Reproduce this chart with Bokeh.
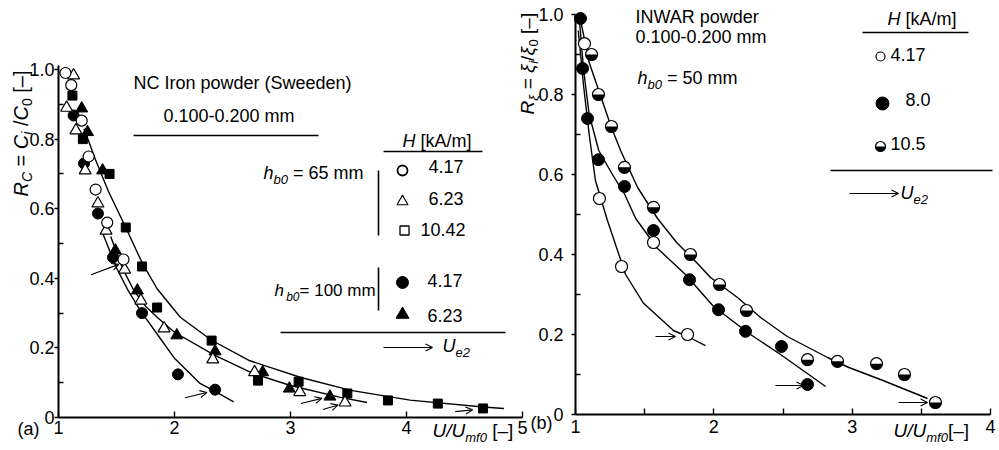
import math
from bokeh.plotting import figure
from bokeh.models import Label, Arrow, OpenHead, FixedTicker, Range1d, LinearAxis
from bokeh.embed import file_html
from bokeh.resources import INLINE

# ================= DATA : panel (a) NC Iron powder =================
# h_b0 = 65 mm, H = 4.17 kA/m (open circles)
a65_c_x = [1.06, 1.11, 1.20, 1.26, 1.32, 1.42, 1.56]
a65_c_y = [0.99, 0.955, 0.853, 0.75, 0.655, 0.56, 0.454]
# h_b0 = 65 mm, H = 6.23 kA/m (open triangles)
a65_t_x = [1.13, 1.07, 1.15, 1.23, 1.34, 1.41, 1.57, 1.71, 1.91, 2.33, 2.69, 3.08, 3.47]
a65_t_y = [0.983, 0.89, 0.825, 0.71, 0.615, 0.537, 0.425, 0.336, 0.256, 0.167, 0.13, 0.073, 0.043]
# h_b0 = 65 mm, H = 10.42 kA/m (squares)
a65_s_x = [1.12, 1.21, 1.44, 1.58, 1.72, 1.85, 2.32, 2.72, 3.07, 3.49, 3.84, 4.27, 4.66]
a65_s_y = [0.925, 0.80, 0.70, 0.546, 0.434, 0.316, 0.221, 0.106, 0.103, 0.069, 0.049, 0.04, 0.026]
# h_b0 = 100 mm, H = 4.17 kA/m (filled circles)
a100_c_x = [1.13, 1.22, 1.34, 1.47, 1.72, 2.03, 2.35]
a100_c_y = [0.868, 0.73, 0.586, 0.46, 0.30, 0.124, 0.08]
# h_b0 = 100 mm, H = 6.23 kA/m (filled triangles)
a100_t_x = [1.20, 1.25, 1.38, 1.49, 1.68, 2.02, 2.35, 2.76, 2.99, 3.34]
a100_t_y = [0.888, 0.82, 0.71, 0.48, 0.365, 0.236, 0.19, 0.13, 0.083, 0.06]
# curves
a_curve1_x = [1.22, 1.32, 1.43, 1.58, 1.72, 1.85, 2.05, 2.32, 2.65, 3.09, 3.52, 4.03, 4.66, 4.84]
a_curve1_y = [0.83, 0.74, 0.65, 0.546, 0.445, 0.37, 0.288, 0.222, 0.163, 0.115, 0.078, 0.05, 0.03, 0.026]
a_curve2_x = [1.45, 1.55, 1.65, 1.75, 1.86, 2.0, 2.34, 2.68, 3.0, 3.43, 3.66]
a_curve2_y = [0.52, 0.43, 0.365, 0.32, 0.285, 0.245, 0.18, 0.126, 0.092, 0.058, 0.043]
a_curve3_x = [1.38, 1.50, 1.60, 1.70, 1.85, 2.0, 2.22, 2.35, 2.51]
a_curve3_y = [0.53, 0.43, 0.365, 0.31, 0.24, 0.17, 0.098, 0.075, 0.045]
# U_e2 arrows (start -> end)
a_arr_x0 = [1.28, 2.09, 3.09, 3.28, 4.42]
a_arr_y0 = [0.41, 0.057, 0.040, 0.023, 0.017]
a_arr_x1 = [1.52, 2.28, 3.27, 3.41, 4.57]
a_arr_y1 = [0.44, 0.072, 0.055, 0.036, 0.022]
a_xticks = [1, 2, 3, 4, 5]
a_yticks = [0, 0.2, 0.4, 0.6, 0.8, 1.0]
a_yticklabels = ["0", "0.2", "0.4", "0.6", "0.8", "1.0"]
a_yminor = [0.1, 0.3, 0.5, 0.7, 0.9]

# ================= DATA : panel (b) INWAR powder =================
b_417_x = [1.065, 1.173, 1.333, 1.564, 1.810]
b_417_y = [0.927, 0.54, 0.37, 0.43, 0.20]
b_80_x = [1.036, 1.051, 1.087, 1.166, 1.354, 1.564, 1.824, 2.034, 2.229, 2.489, 2.677]
b_80_y = [0.99, 0.865, 0.74, 0.637, 0.57, 0.46, 0.337, 0.262, 0.208, 0.17, 0.075]
b_105_x = [1.116, 1.166, 1.260, 1.354, 1.564, 1.831, 2.041, 2.236, 2.677, 2.894, 3.176, 3.378, 3.602]
b_105_y = [0.90, 0.80, 0.72, 0.618, 0.518, 0.40, 0.325, 0.26, 0.137, 0.133, 0.127, 0.10, 0.03]
b_curveA_x = [1.02, 1.059, 1.099, 1.144, 1.231, 1.362, 1.492, 1.708, 1.81, 1.939]
b_curveA_y = [0.96, 0.82, 0.70, 0.585, 0.485, 0.35, 0.278, 0.21, 0.195, 0.172]
b_curveB_x = [1.03, 1.059, 1.099, 1.168, 1.267, 1.356, 1.435, 1.593, 1.795, 1.998, 2.265, 2.482, 2.808]
b_curveB_y = [0.98, 0.86, 0.75, 0.66, 0.60, 0.55, 0.49, 0.415, 0.35, 0.27, 0.20, 0.15, 0.07]
b_curveC_x = [1.04, 1.099, 1.178, 1.257, 1.326, 1.449, 1.593, 1.731, 1.882, 1.976, 2.171, 2.338, 2.531, 2.822, 2.976, 3.223, 3.545]
b_curveC_y = [0.98, 0.88, 0.80, 0.72, 0.66, 0.5675, 0.49, 0.43, 0.3775, 0.3425, 0.2925, 0.2425, 0.195, 0.1425, 0.1175, 0.085, 0.04]
b_arr_x0 = [1.578, 2.445, 3.335]
b_arr_y0 = [0.195, 0.0725, 0.03]
b_arr_x1 = [1.723, 2.648, 3.545]
b_arr_y1 = [0.195, 0.0725, 0.03]
b_xticks = [1, 2, 3, 4]
b_xminor = [1.5, 2.5, 3.5]
b_yticks = [0, 0.2, 0.4, 0.6, 0.8, 1.0]
b_yticklabels = ["0", "0.2", "0.4", "0.6", "0.8", "1.0"]
b_yminor = [0.1, 0.3, 0.5, 0.7, 0.9]

FONT = "Liberation Sans"
BLACK = "black"
NB = "\u00a0"

# ---------- layout geometry (page pixels) ----------
W, H = 999, 450
A_X1_PX, A_PPU_X = 58.0, 116.0      # panel a: x=1 at px 58
A_Y0_PY, A_PPU_Y = 417.0, 348.0     # panel a: y=0 at py 417
B_X1_PX, B_PPU_X = 575.0, 415.0 / 3  # panel b: x=1 at px 575, x=4 at 990
B_Y0_PY, B_PPU_Y = 414.0, 400.0     # panel b: y=0 at py 414

def fx(px): return 1 + (px - A_X1_PX) / A_PPU_X
def fy(py): return (A_Y0_PY - py) / A_PPU_Y
def bpx(x): return B_X1_PX + (x - 1) * B_PPU_X
def bpy(y): return B_Y0_PY - y * B_PPU_Y

CW = {' ': 278, NB: 278, '(': 333, ')': 333, '-': 333, '.': 278, '/': 278, '=': 584, '[': 278, ']': 278,
      '–': 556, 'A': 667, 'C': 722, 'H': 722, 'I': 278, 'N': 722, 'R': 722, 'S': 667, 'U': 722,
      'W': 944, 'a': 556, 'b': 556, 'd': 556, 'e': 556, 'f': 278, 'h': 556, 'i': 222, 'k': 500,
      'm': 833, 'n': 556, 'o': 556, 'p': 556, 'r': 333, 'w': 722, 'ξ': 480}
MID = 0.35  # em-box middle above the baseline, as a fraction of the font size

def tw(s, size):
    return sum(CW.get(ch, 556) for ch in s) * size / 1000.0

def mk_label(x, y, text, size, style, angle=0.0):
    return Label(x=x, y=y, text=text.replace(" ", NB), text_font=FONT, text_font_size=f"{size}px",
                 text_font_style=style, text_color=BLACK, text_align="left",
                 text_baseline="middle", angle=angle)

def plain(p, text, px, py, size=18, style="normal"):
    p.add_layout(mk_label(fx(px), fy(py), text, size, style))

def rich(p, segs, px, py, vertical=False):
    """px/py: start point on the common baseline (page pixels)."""
    pos = py if vertical else px
    for text, size, style, shift in segs:
        off = shift - MID * size
        if vertical:
            p.add_layout(mk_label(fx(px + off), fy(pos), text, size, style, math.pi / 2))
            pos -= tw(text, size)
        else:
            p.add_layout(mk_label(fx(pos), fy(py + off), text, size, style))
            pos += tw(text, size)

def seg(p, x0, y0, x1, y1, w=1.3):
    p.segment(x0=[fx(x0)], y0=[fy(y0)], x1=[fx(x1)], y1=[fy(y1)], line_color=BLACK, line_width=w)

def arrow(p, x0, y0, x1, y1):
    p.add_layout(Arrow(x_start=x0, y_start=y0, x_end=x1, y_end=y1, line_width=1.1, line_color=BLACK,
                       end=OpenHead(size=7, line_width=1.1, line_color=BLACK)))

def style_axis(ax, tick_in, tick_out, minor_in, standoff):
    ax.axis_line_width = 2
    ax.axis_line_color = BLACK
    ax.major_tick_line_color = BLACK
    ax.minor_tick_line_color = BLACK
    ax.major_tick_line_width = 1.4
    ax.minor_tick_line_width = 1.4
    ax.major_tick_in = tick_in
    ax.major_tick_out = tick_out
    ax.minor_tick_in = minor_in
    ax.minor_tick_out = 0
    ax.major_label_standoff = standoff
    ax.major_label_text_font = FONT
    ax.major_label_text_font_size = "18px"
    ax.major_label_text_color = BLACK

p = figure(width=W, height=H, output_backend="svg", toolbar_location=None,
           x_range=Range1d(fx(0), fx(W)), y_range=Range1d(fy(H), fy(0)),
           x_axis_location=None, y_axis_location=None, min_border=0)
p.extra_x_ranges = {"xb": Range1d(1 + (0 - B_X1_PX) / B_PPU_X, 1 + (W - B_X1_PX) / B_PPU_X)}
p.extra_y_ranges = {"yb": Range1d((B_Y0_PY - H) / B_PPU_Y, B_Y0_PY / B_PPU_Y)}
p.grid.visible = False
p.outline_line_color = None
p.background_fill_color = "white"
p.border_fill_color = "white"

# ----- axes panel (a)
ax_a = LinearAxis(ticker=FixedTicker(ticks=a_xticks), fixed_location=0, bounds=(1, 5))
style_axis(ax_a, 6, 0, 0, 3)
p.add_layout(ax_a, "below")
ay_a = LinearAxis(ticker=FixedTicker(ticks=a_yticks, minor_ticks=a_yminor), fixed_location=1,
                  bounds=(0, 1.012), major_label_overrides=dict(zip(a_yticks, a_yticklabels)))
style_axis(ay_a, 0, 4, 5, 0)
p.add_layout(ay_a, "left")
# ----- axes panel (b)
ax_b = LinearAxis(x_range_name="xb", y_range_name="yb", fixed_location=0, bounds=(1, 4),
                  ticker=FixedTicker(ticks=b_xticks, minor_ticks=b_xminor))
style_axis(ax_b, 6, 0, 6, 5)
p.add_layout(ax_b, "below")
ay_b = LinearAxis(x_range_name="xb", y_range_name="yb", fixed_location=1, bounds=(0, 1.0),
                  ticker=FixedTicker(ticks=b_yticks, minor_ticks=b_yminor),
                  major_label_overrides=dict(zip(b_yticks, b_yticklabels)))
style_axis(ay_b, 0, 4, 5, 8)
p.add_layout(ay_b, "left")

# ----- panel (a) data
for cx, cy in ((a_curve1_x, a_curve1_y), (a_curve2_x, a_curve2_y), (a_curve3_x, a_curve3_y)):
    p.line(cx, cy, line_color=BLACK, line_width=1.4)
p.scatter(a65_s_x, a65_s_y, marker="square", size=9, fill_color=BLACK, line_color=BLACK)
p.scatter(a100_t_x, a100_t_y, marker="triangle", size=12, fill_color=BLACK, line_color=BLACK)
p.scatter(a100_c_x, a100_c_y, marker="circle", size=11, fill_color=BLACK, line_color=BLACK)
p.scatter(a65_t_x, a65_t_y, marker="triangle", size=12, fill_color="white", line_color=BLACK, line_width=1.2)
p.scatter(a65_c_x, a65_c_y, marker="circle", size=11, fill_color="white", line_color=BLACK, line_width=1.2)
for i in range(len(a_arr_x0)):
    arrow(p, a_arr_x0[i], a_arr_y0[i], a_arr_x1[i], a_arr_y1[i])

# ----- panel (b) data
for cx, cy in ((b_curveA_x, b_curveA_y), (b_curveB_x, b_curveB_y), (b_curveC_x, b_curveC_y)):
    p.line(cx, cy, line_color=BLACK, line_width=1.4, x_range_name="xb", y_range_name="yb")
p.scatter(b_80_x, b_80_y, marker="circle", size=12, fill_color=BLACK, line_color=BLACK,
          x_range_name="xb", y_range_name="yb")
p.scatter(b_417_x, b_417_y, marker="circle", size=12, fill_color="white", line_color=BLACK, line_width=1.2,
          x_range_name="xb", y_range_name="yb")
p.scatter(b_105_x, b_105_y, marker="circle", size=12, fill_color="white", line_color=BLACK, line_width=1.2,
          x_range_name="xb", y_range_name="yb")
p.wedge(b_105_x, b_105_y, radius=6, radius_units="screen", start_angle=math.pi, end_angle=2 * math.pi,
        fill_color=BLACK, line_color=None, x_range_name="xb", y_range_name="yb")
for i in range(len(b_arr_x0)):
    arrow(p, fx(bpx(b_arr_x0[i])), fy(bpy(b_arr_y0[i])), fx(bpx(b_arr_x1[i])), fy(bpy(b_arr_y1[i])))

# ----- annotations (a)
plain(p, "NC Iron powder (Sweeden)", 133, 82)
plain(p, "0.100-0.200 mm", 163, 115)
seg(p, 133, 135, 318, 135)
rich(p, [("H", 18, "italic", 0), (" [kA/m]", 18, "normal", 0)], 402, 146.5)
seg(p, 383, 151, 482, 151)
rich(p, [("h", 18, "italic", 0), ("b0", 13, "italic", 5), (" = 65 mm", 18, "normal", 0)], 263, 178.5)
seg(p, 378, 170, 378, 235, 1.6)
p.scatter([fx(402)], [fy(170)], marker="circle", size=10, fill_color="white", line_color=BLACK, line_width=1.8)
p.scatter([fx(402)], [fy(201)], marker="triangle", size=11, fill_color="white", line_color=BLACK, line_width=1.1)
p.scatter([fx(404)], [fy(230)], marker="square", size=9, fill_color="white", line_color=BLACK, line_width=1.3)
plain(p, "4.17", 428, 166)
plain(p, "6.23", 428, 198)
plain(p, "10.42", 420, 229)
rich(p, [("h", 17, "italic", 0), (" ", 8, "normal", 0), ("b0", 12, "italic", 5), ("= 100 mm", 17, "normal", 0)],
     274, 296)
seg(p, 378, 267, 378, 310, 1.6)
p.scatter([fx(402)], [fy(282)], marker="circle", size=12, fill_color=BLACK, line_color=BLACK)
p.scatter([fx(402)], [fy(314)], marker="triangle", size=13, fill_color=BLACK, line_color=BLACK)
plain(p, "4.17", 427, 280)
plain(p, "6.23", 427, 315)
seg(p, 280, 332, 505, 332)
arrow(p, fx(383), fy(347), fx(432), fy(347))
rich(p, [("U", 18, "italic", 0), ("e2", 13, "italic", 5)], 442, 352)
plain(p, "(a)", 17, 428)
rich(p, [("U/U", 19, "italic", 0), ("mf0", 13, "italic", 5), (" [–]", 19, "normal", 0)], 432, 437)
rich(p, [("R", 20, "italic", 0), ("C", 14, "italic", 4), (" = ", 20, "normal", 0),
         ("C", 20, "italic", 0), ("i", 14, "italic", 4), (" /", 20, "normal", 0),
         ("C", 20, "italic", 0), ("0", 14, "normal", 4), (" [–]", 20, "normal", 0)],
     27, 196, vertical=True)

# ----- annotations (b)
plain(p, "INWAR powder", 635, 16)
plain(p, "0.100-0.200 mm", 635, 36)
rich(p, [("h", 18, "italic", 0), ("b0", 13, "italic", 5), (" = 50 mm", 18, "normal", 0)], 637, 83.5)
rich(p, [("H", 18, "italic", 0), (" [kA/m]", 18, "normal", 0)], 887, 25)
seg(p, 862, 32, 968, 32)
p.scatter([fx(880)], [fy(56)], marker="circle", size=9, fill_color="white", line_color=BLACK, line_width=1.2)
p.scatter([fx(882)], [fy(103)], marker="circle", size=13, fill_color=BLACK, line_color=BLACK)
p.scatter([fx(880)], [fy(146)], marker="circle", size=10, fill_color="white", line_color=BLACK, line_width=1.2)
p.wedge([fx(880)], [fy(146)], radius=5, radius_units="screen", start_angle=math.pi, end_angle=2 * math.pi,
        fill_color=BLACK, line_color=None)
plain(p, "4.17", 890, 54)
plain(p, "8.0", 905, 99)
plain(p, "10.5", 890, 143)
seg(p, 830, 170, 992, 170)
arrow(p, fx(849), fy(193), fx(898), fy(193))
rich(p, [("U", 18, "italic", 0), ("e2", 13, "italic", 5)], 900, 199)
plain(p, "(b)", 530, 422)
rich(p, [("U/U", 19, "italic", 0), ("mf0", 13, "italic", 5), ("[–]", 19, "normal", 0)], 893, 437)
rich(p, [("R", 19, "italic", 0), ("ξ", 13, "italic", 4), (" = ", 19, "normal", 0),
         ("ξ", 19, "italic", 0), ("i", 13, "italic", 4), ("/", 19, "normal", 0),
         ("ξ", 19, "italic", 0), ("0", 13, "normal", 4), (" [–]", 19, "normal", 0)],
     534, 114, vertical=True)

open("out.html", "w").write(file_html(p, INLINE))
